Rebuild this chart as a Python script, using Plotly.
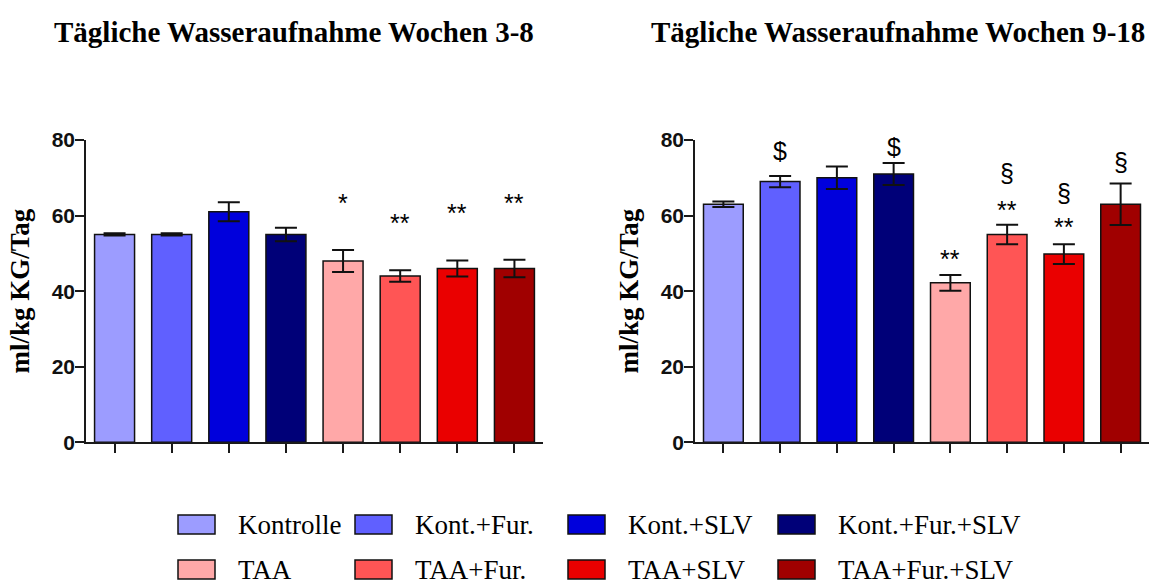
import plotly.graph_objects as go

# ---------------- data ----------------
groups = ["Kontrolle", "Kont.+Fur.", "Kont.+SLV", "Kont.+Fur.+SLV",
          "TAA", "TAA+Fur.", "TAA+SLV", "TAA+Fur.+SLV"]
bar_colors = ["#9C9CFF", "#6060FF", "#0000DC", "#000078",
              "#FFA8A8", "#FF5555", "#EA0000", "#A00000"]

weeks_3_8_mean = [55.0, 55.0, 61.0, 55.0, 48.0, 44.0, 46.0, 46.0]
weeks_3_8_sem = [0.3, 0.3, 2.5, 1.8, 2.9, 1.5, 2.1, 2.3]
weeks_3_8_marks = ["", "", "", "", "*", "**", "**", "**"]
weeks_3_8_mark_y = [None, None, None, None, 64.9, 59.5, 62.1, 64.9]

weeks_9_18_mean = [63.0, 69.0, 70.0, 71.0, 42.2, 55.0, 49.8, 63.0]
weeks_9_18_sem = [0.7, 1.5, 3.0, 2.9, 2.1, 2.6, 2.6, 5.5]
weeks_9_18_stars = ["", "", "", "", "**", "**", "**", ""]
weeks_9_18_stars_y = [None, None, None, None, 50.0, 62.9, 58.6, None]
weeks_9_18_other = ["", "$", "", "$", "", "§", "§", "§"]
weeks_9_18_other_y = [None, 77.2, None, 78.1, None, 71.4, 66.0, 74.3]

titles = ["Tägliche Wasseraufnahme Wochen 3-8", "Tägliche Wasseraufnahme Wochen 9-18"]
y_title = "ml/kg KG/Tag"
y_ticks = [0, 20, 40, 60, 80]

# ---------------- layout constants ----------------
W, H = 1150, 585
SERIF = "Liberation Serif"
SANS = "Liberation Sans"
AXC = "#1a1a1a"
STAR_SHIFT = 1.5  # asterisk glyph sits high in its text box


def px_x(p):
    return p / W


def px_y(p):
    return 1 - p / H


fig = go.Figure()

panels = [
    ("x", "y", weeks_3_8_mean, weeks_3_8_sem),
    ("x2", "y2", weeks_9_18_mean, weeks_9_18_sem),
]
for xa, ya, means, sems in panels:
    fig.add_trace(go.Bar(
        x=groups, y=means, xaxis=xa, yaxis=ya, width=0.7,
        marker=dict(color=bar_colors, line=dict(color="#111111", width=1.5)),
        error_y=dict(type="data", array=sems, visible=True, color="#111111",
                     thickness=2, width=11),
        showlegend=False, hoverinfo="x+y",
    ))

axis_common_x = dict(
    type="category", range=[-0.5, 7.5], showline=True, linecolor=AXC, linewidth=1.5,
    ticks="outside", ticklen=9, tickwidth=1.5, tickcolor=AXC, showticklabels=False,
    showgrid=False, zeroline=False, fixedrange=True, automargin=False,
)
axis_common_y = dict(
    range=[0, 80], tickvals=y_ticks, showline=True, linecolor=AXC, linewidth=1.5,
    ticks="outside", ticklen=9, tickwidth=1.5, tickcolor=AXC,
    tickfont=dict(family=SANS, size=21, color="#111111", weight="bold"),
    showgrid=False, zeroline=False, fixedrange=True, automargin=False,
    title=dict(text=y_title, font=dict(family=SERIF, size=27, color="#000000", weight="bold"),
               standoff=14),
)
ydom = [px_y(442.3), px_y(140)]
fig.update_layout(
    xaxis=dict(domain=[px_x(86), px_x(543)], anchor="y", **axis_common_x),
    yaxis=dict(domain=ydom, anchor="x", **axis_common_y),
    xaxis2=dict(domain=[px_x(695), px_x(1149)], anchor="y2", **axis_common_x),
    yaxis2=dict(domain=ydom, anchor="x2", **axis_common_y),
)
# pull the tick labels a little closer to the axis line, as in the reference
try:
    fig.update_layout(yaxis_ticklabelstandoff=-4, yaxis2_ticklabelstandoff=-4)
except ValueError:
    pass

annotations = []


def add_marks(xref, yref, marks, ys, shift):
    for g, m, yy in zip(groups, marks, ys):
        if m and yy is not None:
            annotations.append(dict(
                x=g, y=yy - shift, xref=xref, yref=yref, text=m, showarrow=False,
                xanchor="center", yanchor="middle",
                font=dict(family=SANS, size=25, color="#000000"),
            ))


add_marks("x", "y", weeks_3_8_marks, weeks_3_8_mark_y, STAR_SHIFT)
add_marks("x2", "y2", weeks_9_18_stars, weeks_9_18_stars_y, STAR_SHIFT)
add_marks("x2", "y2", weeks_9_18_other, weeks_9_18_other_y, 0)

# panel titles
for t, cx in zip(titles, [294, 898]):
    annotations.append(dict(
        x=px_x(cx), y=px_y(32), xref="paper", yref="paper", text=t, showarrow=False,
        xanchor="center", yanchor="middle",
        font=dict(family=SERIF, size=29, color="#000000", weight="bold"),
    ))

# legend (two rows of four)
legend_cols = [178, 355, 568, 778]
legend_rows = [524.5, 569.5]
box_w, box_h, text_gap = 37, 19, 21
shapes = []
for i, (name, col) in enumerate(zip(groups, bar_colors)):
    r, c = divmod(i, 4)
    x0 = legend_cols[c]
    yc = legend_rows[r]
    shapes.append(dict(
        type="rect", xref="paper", yref="paper",
        x0=px_x(x0), x1=px_x(x0 + box_w),
        y0=px_y(yc + box_h / 2), y1=px_y(yc - box_h / 2),
        fillcolor=col, line=dict(color="#111111", width=1.5),
    ))
    annotations.append(dict(
        x=px_x(x0 + box_w + text_gap), y=px_y(yc), xref="paper", yref="paper",
        text=name, showarrow=False, xanchor="left", yanchor="middle",
        font=dict(family=SERIF, size=27, color="#000000"),
    ))

fig.update_layout(
    width=W, height=H, margin=dict(l=0, r=0, t=0, b=0, autoexpand=False),
    paper_bgcolor="white", plot_bgcolor="white",
    annotations=annotations, shapes=shapes, showlegend=False,
)

fig.write_html("out.html", post_script="document.body.style.margin='0';",
               config={"displayModeBar": False})
